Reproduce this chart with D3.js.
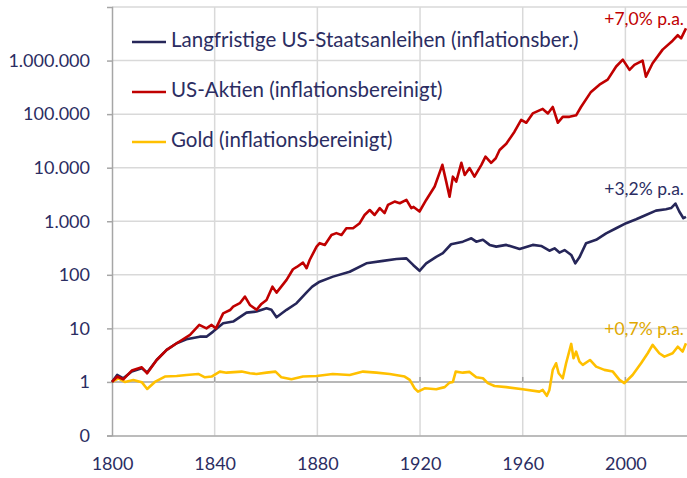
<!DOCTYPE html>
<html>
<head>
<meta charset="utf-8">
<script src="https://cdn.jsdelivr.net/npm/d3@7"></script>
<style>
  body { margin: 0; background: #fff; }
  text { font-family: Lato, "Noto Sans", sans-serif; }
</style>
</head>
<body>
<div class="chart"></div>
<script>
var stockYears = [1800, 1802, 1804.4, 1807.7, 1811.6, 1813.7, 1817.4, 1821.3, 1825.2, 1830.4, 1834, 1836.8, 1838.8, 1840.5, 1843.3, 1846, 1847.2, 1849.8, 1851.8, 1853.7, 1856.3, 1858.2, 1860.2, 1862.5, 1864.1, 1868, 1870.5, 1872, 1874.4, 1875.8, 1877, 1879.7, 1880.9, 1882.9, 1885.5, 1887.4, 1889.4, 1891.3, 1893.9, 1896.5, 1898.4, 1900.4, 1902.3, 1904.3, 1906.2, 1907.5, 1910.1, 1912.1, 1914.7, 1916.6, 1917.5, 1919.8, 1922.4, 1925.7, 1928.7, 1930.2, 1931.5, 1932.8, 1934.1, 1936.1, 1937.4, 1939.3, 1941.2, 1943.9, 1945.5, 1947.7, 1949.5, 1951, 1953.6, 1956.8, 1959.4, 1961.4, 1963.9, 1967.8, 1969.8, 1971.7, 1973.7, 1975.6, 1978.2, 1980.8, 1982.7, 1986.6, 1989.9, 1993.1, 1996.4, 1999, 2001.6, 2003.5, 2006.7, 2008, 2010.6, 2014.5, 2018.4, 2020.4, 2021.7, 2023.6];
var stockValues = [1.0, 1.26, 1.12, 1.63, 1.88, 1.45, 2.57, 3.96, 5.28, 7.55, 11.6, 10.0, 11.6, 10.0, 19.1, 22, 25.4, 29.5, 39.2, 27.4, 22.2, 28.6, 34, 60, 46.5, 80.4, 127, 140, 169, 133, 189, 336, 390, 360, 554, 600, 554, 740, 740, 920, 1310, 1620, 1310, 1760, 1420, 2020, 2330, 2170, 2500, 1760, 1850, 1520, 2500, 4450, 11300, 5500, 2870, 6800, 5500, 12300, 7300, 9850, 6800, 11300, 16100, 12300, 15000, 21400, 28000, 47000, 77800, 69000, 103000, 125000, 103000, 136000, 69000, 89000, 89000, 95000, 136000, 260000, 355000, 440000, 775000, 1040000, 670000, 830000, 1000000, 500000, 890000, 1600000, 2350000, 2970000, 2600000, 4000000];

var bondYears = [1800, 1802, 1804.4, 1807.7, 1811.6, 1813.7, 1817.4, 1821.3, 1825.2, 1829, 1834.2, 1836.8, 1839.4, 1843.3, 1847.2, 1852.4, 1856.3, 1860.2, 1862.1, 1864.1, 1868, 1871.9, 1876, 1878, 1880.9, 1886.1, 1892.6, 1899.1, 1905.6, 1910.8, 1914.7, 1917.3, 1919.8, 1922.4, 1926.3, 1928.9, 1932.1, 1936.7, 1940, 1941.9, 1944.5, 1947.1, 1949.7, 1953.6, 1958.8, 1963.9, 1967.2, 1970.4, 1972.4, 1974.3, 1976.3, 1978.9, 1980.5, 1982.1, 1984.7, 1988.6, 1992.5, 1996.4, 2000.3, 2004.2, 2008, 2011.9, 2015.8, 2017.8, 2019.5, 2021, 2022.6, 2023.6];
var bondValues = [1.0, 1.35, 1.17, 1.56, 1.8, 1.5, 2.57, 3.96, 5.28, 6.25, 7.0, 7.0, 8.7, 12.5, 13.4, 19.7, 20.6, 23.7, 22.2, 16.1, 22.2, 29.5, 48, 60, 74.5, 92.5, 114, 164, 182, 197, 203, 153, 119, 164, 217, 253, 372, 416, 480, 416, 450, 362, 336, 362, 303, 362, 346, 282, 312, 260, 290, 235, 164, 212, 390, 450, 596, 740, 920, 1090, 1310, 1580, 1680, 1760, 2140, 1520, 1140, 1210];

var goldYears = [1800, 1802.5, 1805, 1808.3, 1811.6, 1813.7, 1816.7, 1820.6, 1825.2, 1829, 1833.6, 1836.2, 1838.8, 1842, 1844.6, 1850.5, 1853.7, 1856.3, 1860.2, 1863.7, 1866, 1869.9, 1874.4, 1879.7, 1886, 1892.6, 1897.8, 1903, 1908.2, 1914, 1916, 1917.9, 1919.2, 1921.8, 1926.3, 1929.6, 1931.5, 1932.8, 1933.9, 1936.7, 1939.3, 1941.9, 1944.5, 1946.4, 1949, 1953.6, 1960, 1966.5, 1967.8, 1969.4, 1970.4, 1971.7, 1973, 1974, 1975.6, 1976.9, 1978.9, 1979.8, 1980.8, 1982.1, 1983.4, 1986.2, 1988.6, 1991.8, 1995.1, 1997.7, 1999.6, 2002.8, 2006.1, 2008.7, 2010.6, 2013.2, 2015.2, 2018.4, 2020.4, 2022.3, 2023.6];
var goldValues = [1.0, 1.17, 1.0, 1.09, 0.99, 0.74, 1.0, 1.26, 1.29, 1.35, 1.41, 1.22, 1.26, 1.56, 1.49, 1.56, 1.45, 1.41, 1.49, 1.56, 1.22, 1.12, 1.26, 1.29, 1.41, 1.35, 1.56, 1.49, 1.41, 1.26, 1.09, 0.76, 0.66, 0.76, 0.73, 0.80, 0.97, 1.0, 1.56, 1.49, 1.54, 1.22, 1.17, 0.95, 0.84, 0.80, 0.73, 0.66, 0.71, 0.55, 0.71, 1.68, 2.23, 1.45, 1.17, 2.23, 5.12, 2.77, 3.68, 2.39, 2.08, 2.57, 1.93, 1.68, 1.56, 1.09, 0.95, 1.35, 2.23, 3.43, 4.91, 3.43, 2.97, 3.43, 4.55, 3.68, 5.28];

var seriesNames = ["Langfristige US-Staatsanleihen (inflationsber.)", "US-Aktien (inflationsbereinigt)", "Gold (inflationsbereinigt)"];
var seriesColors = ["#262659", "#c00000", "#ffc000"];
var endLabels = ["+3,2% p.a.", "+7,0% p.a.", "+0,7% p.a."];
var endLabelColors = ["#2b2d62", "#c00000", "#e0a800"];
var endLabelValues = [3800, 5.7e6, 9.3];

var yTicks = [0.1, 1, 10, 100, 1000, 10000, 100000, 1000000];
var gridY = [1, 10, 100, 1000, 10000, 100000, 1000000, 10000000];
var xTicks = [1800, 1840, 1880, 1920, 1960, 2000];

var svgWidth = 687;
var svgHeight = 478;

var margin = {
  top: 7,
  right: 0,
  bottom: 42.5,
  left: 112
};

var width = svgWidth - margin.left - margin.right;
var height = svgHeight - margin.top - margin.bottom;

var textColor = "#2b2d62";

var svg = d3.select(".chart")
  .append("svg")
  .attr("width", svgWidth)
  .attr("height", svgHeight);

var chartGroup = svg.append("g")
  .attr("transform", `translate(${margin.left}, ${margin.top})`);

// German number format: 1.000.000
var de = d3.formatLocale({ decimal: ",", thousands: ".", grouping: [3], currency: ["", " €"] });
var fmt = de.format(",.0f");

// Scales
// ==============================
var xScale = d3.scaleLinear()
  .domain([1800, 2024])
  .range([0, width]);

var yScale = d3.scaleLog()
  .domain([0.1, 1e7])
  .range([height, 0]);

// Gridlines
// ==============================
chartGroup.selectAll(".gridY")
  .data(gridY)
  .enter()
  .append("line")
  .attr("x1", 0)
  .attr("x2", width)
  .attr("y1", d => yScale(d))
  .attr("y2", d => yScale(d))
  .attr("stroke", d => d === 1 ? "#a0a0a0" : "#d9d9d9")
  .attr("stroke-width", 1.5);

chartGroup.selectAll(".gridX")
  .data(xTicks.slice(1))
  .enter()
  .append("line")
  .attr("x1", d => xScale(d))
  .attr("x2", d => xScale(d))
  .attr("y1", 0)
  .attr("y2", height)
  .attr("stroke", "#d9d9d9")
  .attr("stroke-width", 1.5);

// small ticks on the line at 1
chartGroup.selectAll(".tick1")
  .data(xTicks.slice(1))
  .enter()
  .append("line")
  .attr("x1", d => xScale(d))
  .attr("x2", d => xScale(d))
  .attr("y1", yScale(1) - 5)
  .attr("y2", yScale(1))
  .attr("stroke", "#a0a0a0")
  .attr("stroke-width", 1.5);

// Axes
// ==============================
var leftAxis = d3.axisLeft(yScale)
  .tickValues(yTicks)
  .tickFormat(fmt)
  .tickSize(5)
  .tickPadding(17);

var bottomAxis = d3.axisBottom(xScale)
  .tickValues(xTicks)
  .tickFormat(d => d)
  .tickSize(0)
  .tickPadding(22);

var yAxisG = chartGroup.append("g").call(leftAxis);
var xAxisG = chartGroup.append("g")
  .attr("transform", `translate(0, ${height})`)
  .call(bottomAxis);

[yAxisG, xAxisG].forEach(function(g) {
  g.select(".domain").attr("stroke", "#a6a6a6").attr("stroke-width", 1.5);
  g.selectAll(".tick line").attr("stroke", "#a6a6a6").attr("stroke-width", 1.5);
  g.selectAll(".tick text")
    .attr("fill", textColor)
    .style("font-size", "18px")
    .style("font-family", "Lato, sans-serif");
});

// Lines
// ==============================
var line = d3.line()
  .x(d => xScale(d[0]))
  .y(d => yScale(d[1]));

var seriesData = [
  d3.zip(bondYears, bondValues),
  d3.zip(stockYears, stockValues),
  d3.zip(goldYears, goldValues)
];

// draw gold first, then bonds, then stocks on top
[2, 0, 1].forEach(function(i) {
  chartGroup.append("path")
    .datum(seriesData[i])
    .attr("d", line)
    .attr("fill", "none")
    .attr("stroke", seriesColors[i])
    .attr("stroke-width", 2.6)
    .attr("stroke-linejoin", "round");
});

// End labels
chartGroup.selectAll(".endLabel")
  .data(endLabels)
  .enter()
  .append("text")
  .attr("x", width - 3)
  .attr("y", (d, i) => yScale(endLabelValues[i]))
  .attr("text-anchor", "end")
  .attr("dominant-baseline", "middle")
  .attr("fill", (d, i) => endLabelColors[i])
  .style("font-size", "17.5px")
  .text(d => d);

// Legend
// ==============================
var legend = svg.append("g");
seriesNames.forEach(function(name, i) {
  var ly = 42 + i * 50;
  legend.append("line")
    .attr("x1", 132)
    .attr("x2", 166)
    .attr("y1", ly)
    .attr("y2", ly)
    .attr("stroke", seriesColors[i])
    .attr("stroke-width", 2.6);
  legend.append("text")
    .attr("x", 171)
    .attr("y", ly)
    .attr("dominant-baseline", "middle")
    .attr("fill", textColor)
    .style("font-size", "20.5px")
    .text(name);
});
</script>
</body>
</html>
